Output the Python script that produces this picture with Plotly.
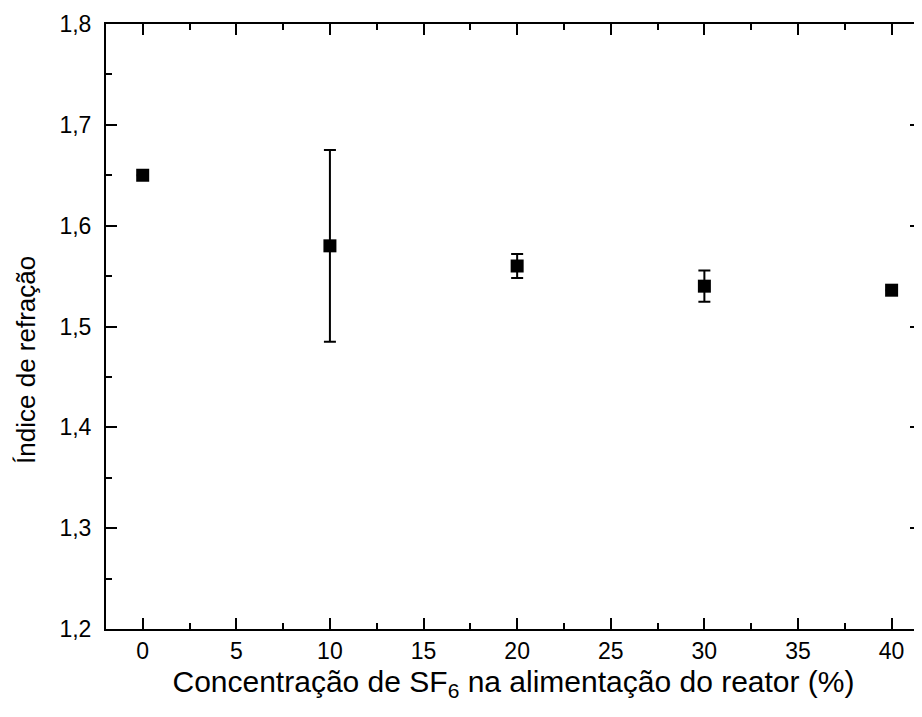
import plotly.graph_objects as go

conc = [0, 10, 20, 30, 40]
indice = [1.650, 1.580, 1.560, 1.540, 1.536]
erro = [0.0, 0.095, 0.012, 0.0155, 0.0]

x_range = [-1.96, 41.57]
y_range = [1.2, 1.8]
x_minor_ticks = [2.5 + 5 * i for i in range(8)]
y_minor_ticks = [round(1.25 + 0.1 * i, 2) for i in range(6)]

font = "Liberation Sans"

fig = go.Figure()
fig.add_trace(go.Scatter(
    x=conc, y=indice, mode="markers",
    marker=dict(symbol="square", size=13, color="black"),
    error_y=dict(type="data", array=erro, visible=True, color="black",
                 thickness=2, width=6),
    showlegend=False, hoverinfo="skip",
))
# invisible trace to anchor the minor-tick axes
fig.add_trace(go.Scatter(
    x=conc, y=indice, xaxis="x2", yaxis="y2", mode="markers",
    marker=dict(opacity=0), showlegend=False, hoverinfo="skip",
))

line_style = dict(showline=True, linecolor="black", linewidth=2, mirror="ticks",
                  showgrid=False, zeroline=False, automargin=False)

fig.update_layout(
    width=914, height=709,
    margin=dict(l=98, r=1, t=16, b=88),
    paper_bgcolor="white", plot_bgcolor="white",
    separators=",.",
    font=dict(family=font, color="black"),
    xaxis=dict(
        range=x_range, tick0=0, dtick=5,
        ticks="inside", ticklen=11, tickwidth=2, tickcolor="black",
        tickfont=dict(family=font, size=23, color="black"),
        title=dict(text="Concentração de SF<sub>6</sub> na alimentação do reator (%)",
                   font=dict(family=font, size=30, color="black"), standoff=8),
        **line_style,
    ),
    yaxis=dict(
        range=y_range, tick0=1.2, dtick=0.1, tickformat=".1f",
        ticks="inside", ticklen=11, tickwidth=2, tickcolor="black",
        tickfont=dict(family=font, size=23, color="black"),
        ticklabelstandoff=8,
        **line_style,
    ),
    xaxis2=dict(
        overlaying="x", anchor="y", side="bottom", range=x_range,
        tickmode="array", tickvals=x_minor_ticks, showticklabels=False,
        ticks="inside", ticklen=6, tickwidth=2, tickcolor="black",
        **line_style,
    ),
    yaxis2=dict(
        overlaying="y", anchor="x", side="left", range=y_range,
        tickmode="array", tickvals=y_minor_ticks, showticklabels=False,
        ticks="inside", ticklen=6, tickwidth=2, tickcolor="black",
        **line_style,
    ),
    annotations=[dict(
        text="Índice de refração", textangle=-90,
        xref="paper", yref="paper", x=-0.098, y=0.445,
        xanchor="center", yanchor="middle", showarrow=False,
        font=dict(family=font, size=26, color="black"),
    )],
)
fig.write_html("out.html")
